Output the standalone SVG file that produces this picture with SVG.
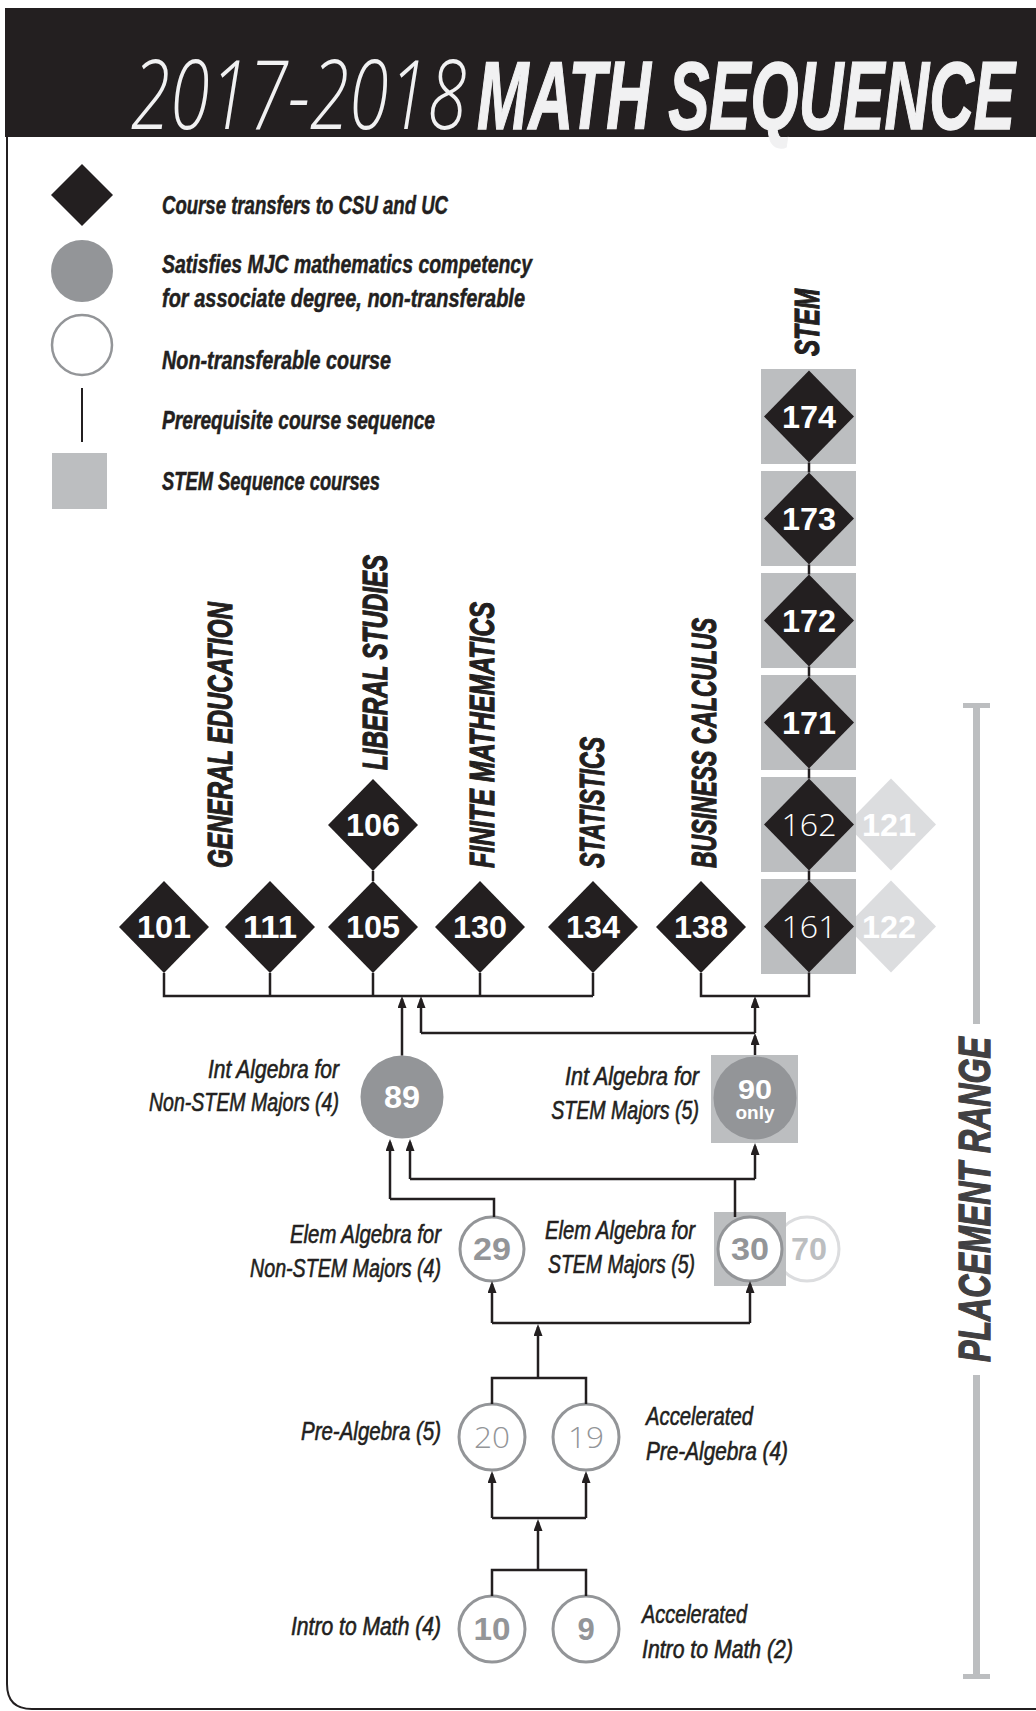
<svg xmlns="http://www.w3.org/2000/svg" width="1036" height="1711" viewBox="0 0 1036 1711">
<style>
.lbl{font-family:"Liberation Sans",Arial,sans-serif;font-style:italic;font-size:25px;fill:#231f20;stroke:#231f20;stroke-width:0.6px}
.leg{font-family:"Liberation Sans",Arial,sans-serif;font-style:italic;font-weight:bold;font-size:25px;fill:#231f20;stroke:#231f20;stroke-width:0.5px}
.col{font-family:"Liberation Sans",Arial,sans-serif;font-style:italic;font-weight:bold;font-size:35px;fill:#231f20;stroke:#231f20;stroke-width:1.2px}
.dnum{font-family:"Liberation Sans",Arial,sans-serif;font-weight:bold;font-size:32px;fill:#ffffff;text-anchor:middle}
.lnum{font-family:"Open Sans","Liberation Sans",sans-serif;font-weight:300;font-size:31px;fill:#ffffff;text-anchor:middle}
.cnum{font-family:"Liberation Sans",Arial,sans-serif;font-weight:bold;font-size:31px;fill:#939598;text-anchor:middle}
.cthin{font-family:"Open Sans","Liberation Sans",sans-serif;font-weight:300;font-size:30px;fill:#939598;text-anchor:middle}
.dia{fill:#231f20}
.sq{fill:#bcbec0}
.ring{fill:#ffffff;stroke:#939598;stroke-width:3}
.conn{fill:none;stroke:#231f20;stroke-width:2.5}
.arr{fill:none;stroke:#231f20;stroke-width:2.5;marker-end:url(#ah)}
.r{text-anchor:end}
</style>
<defs>
<marker id="ah" viewBox="0 0 12 9" refX="9" refY="4.5" markerWidth="12" markerHeight="9" markerUnits="userSpaceOnUse" orient="auto">
<path d="M0,0 L12,4.5 L0,9 Z" fill="#231f20"/>
</marker>
<path id="dm" d="M0,-46 L45,0 L0,46 L-45,0 Z"/>
</defs>

<!-- frame and title -->
<path d="M7,137 V1684 Q7,1709 32,1709 H1036" fill="none" stroke="#231f20" stroke-width="2"/>
<g id="title">
<rect x="5" y="8" width="1031" height="129" fill="#231f20"/>
<text transform="translate(131,129) scale(0.742,1)" font-family="'Open Sans','Liberation Sans',sans-serif" font-weight="300" font-style="italic" font-size="96" fill="#f1f1f2">2017-2018</text>
<text transform="translate(477,129) scale(0.644,1)" font-family="'Liberation Sans',Arial,sans-serif" font-weight="bold" font-style="italic" font-size="96" fill="#f1f1f2" stroke="#f1f1f2" stroke-width="1.4">MATH SEQUENCE</text>
</g>

<!-- legend -->
<g id="legend">
<path d="M82,164 L113,195 L82,226 L51,195 Z" fill="#231f20"/>
<text class="leg" x="162" y="214" textLength="286" lengthAdjust="spacingAndGlyphs">Course transfers to CSU and UC</text>
<circle cx="82" cy="271" r="31" fill="#939598"/>
<text class="leg" x="162" y="273" textLength="370" lengthAdjust="spacingAndGlyphs">Satisfies MJC mathematics competency</text>
<text class="leg" x="162" y="307" textLength="363" lengthAdjust="spacingAndGlyphs">for associate degree, non-transferable</text>
<circle cx="82" cy="345" r="30" fill="#ffffff" stroke="#939598" stroke-width="2.5"/>
<text class="leg" x="162" y="369" textLength="229" lengthAdjust="spacingAndGlyphs">Non-transferable course</text>
<line x1="82" y1="388" x2="82" y2="442" stroke="#231f20" stroke-width="2"/>
<text class="leg" x="162" y="429" textLength="273" lengthAdjust="spacingAndGlyphs">Prerequisite course sequence</text>
<rect x="52" y="453" width="55" height="56" fill="#bcbec0"/>
<text class="leg" x="162" y="490" textLength="218" lengthAdjust="spacingAndGlyphs">STEM Sequence courses</text>
</g>

<!-- column labels -->
<g id="column-labels">
<text class="col" transform="translate(232,868) rotate(-90)" textLength="266" lengthAdjust="spacingAndGlyphs">GENERAL EDUCATION</text>
<text class="col" transform="translate(387,770) rotate(-90)" textLength="215" lengthAdjust="spacingAndGlyphs">LIBERAL STUDIES</text>
<text class="col" transform="translate(494,868) rotate(-90)" textLength="266" lengthAdjust="spacingAndGlyphs">FINITE MATHEMATICS</text>
<text class="col" transform="translate(604,868) rotate(-90)" textLength="131" lengthAdjust="spacingAndGlyphs">STATISTICS</text>
<text class="col" transform="translate(716,868) rotate(-90)" textLength="250" lengthAdjust="spacingAndGlyphs">BUSINESS CALCULUS</text>
<text class="col" transform="translate(819,356) rotate(-90)" textLength="67" lengthAdjust="spacingAndGlyphs">STEM</text>
</g>

<!-- placement range -->
<g id="placement-range">
<rect x="963" y="703" width="27" height="5" fill="#bcbec0"/>
<rect x="973" y="703" width="7" height="321" fill="#bcbec0"/>
<rect x="973" y="1375" width="7" height="302" fill="#bcbec0"/>
<rect x="963" y="1674" width="27" height="5" fill="#bcbec0"/>
<text transform="translate(990,1362) rotate(-90)" font-family="'Liberation Sans',Arial,sans-serif" font-weight="bold" font-style="italic" font-size="44" fill="#414042" stroke="#414042" stroke-width="1.3" textLength="325" lengthAdjust="spacingAndGlyphs">PLACEMENT RANGE</text>
</g>

<!-- light alternates behind STEM squares -->
<g id="n121"><use href="#dm" x="891" y="824.5" fill="#dcdddf"/><text class="dnum" x="889" y="836" textLength="54" lengthAdjust="spacingAndGlyphs">121</text></g>
<g id="n122"><use href="#dm" x="891" y="926.5" fill="#dcdddf"/><text class="dnum" x="889" y="938" textLength="54" lengthAdjust="spacingAndGlyphs">122</text></g>

<!-- STEM column -->
<g id="n174"><rect class="sq" x="761" y="369" width="95" height="95"/><use href="#dm" x="809" y="416.5" class="dia"/><text class="dnum" x="809" y="428" textLength="54" lengthAdjust="spacingAndGlyphs">174</text></g>
<g id="n173"><rect class="sq" x="761" y="471" width="95" height="95"/><use href="#dm" x="809" y="518.5" class="dia"/><text class="dnum" x="809" y="530" textLength="54" lengthAdjust="spacingAndGlyphs">173</text></g>
<g id="n172"><rect class="sq" x="761" y="573" width="95" height="95"/><use href="#dm" x="809" y="620.5" class="dia"/><text class="dnum" x="809" y="632" textLength="54" lengthAdjust="spacingAndGlyphs">172</text></g>
<g id="n171"><rect class="sq" x="761" y="675" width="95" height="95"/><use href="#dm" x="809" y="722.5" class="dia"/><text class="dnum" x="809" y="734" textLength="54" lengthAdjust="spacingAndGlyphs">171</text></g>
<g id="n162"><rect class="sq" x="761" y="777" width="95" height="95"/><use href="#dm" x="809" y="824.5" class="dia"/><text class="lnum" x="809" y="836" textLength="55" lengthAdjust="spacingAndGlyphs">162</text></g>
<g id="n161"><rect class="sq" x="761" y="879" width="95" height="95"/><use href="#dm" x="809" y="926.5" class="dia"/><text class="lnum" x="809" y="938" textLength="55" lengthAdjust="spacingAndGlyphs">161</text></g>

<!-- transfer row -->
<g id="n101"><use href="#dm" x="164" y="927" class="dia"/><text class="dnum" x="164" y="938" textLength="54" lengthAdjust="spacingAndGlyphs">101</text></g>
<g id="n111"><use href="#dm" x="270" y="927" class="dia"/><text class="dnum" x="270" y="938" textLength="54" lengthAdjust="spacingAndGlyphs">111</text></g>
<g id="n105"><use href="#dm" x="373" y="927" class="dia"/><text class="dnum" x="373" y="938" textLength="54" lengthAdjust="spacingAndGlyphs">105</text></g>
<g id="n106"><use href="#dm" x="373" y="825" class="dia"/><text class="dnum" x="373" y="836" textLength="54" lengthAdjust="spacingAndGlyphs">106</text></g>
<g id="n130"><use href="#dm" x="480" y="927" class="dia"/><text class="dnum" x="480" y="938" textLength="54" lengthAdjust="spacingAndGlyphs">130</text></g>
<g id="n134"><use href="#dm" x="593" y="927" class="dia"/><text class="dnum" x="593" y="938" textLength="54" lengthAdjust="spacingAndGlyphs">134</text></g>
<g id="n138"><use href="#dm" x="701" y="927" class="dia"/><text class="dnum" x="701" y="938" textLength="54" lengthAdjust="spacingAndGlyphs">138</text></g>

<!-- intermediate algebra -->
<g id="n89">
<circle cx="402" cy="1097" r="41.5" fill="#939598"/>
<text class="dnum" x="402" y="1108" textLength="36" lengthAdjust="spacingAndGlyphs">89</text>
<text class="lbl r" x="339" y="1078" textLength="131" lengthAdjust="spacingAndGlyphs">Int Algebra for</text>
<text class="lbl r" transform="translate(339,1111) scale(0.782,1)">Non-STEM Majors (4)</text>
</g>
<g id="n90">
<rect class="sq" x="711" y="1055" width="87" height="88"/>
<circle cx="755" cy="1098" r="41.5" fill="#939598"/>
<text class="dnum" x="755" y="1099" style="font-size:28px" textLength="34" lengthAdjust="spacingAndGlyphs">90</text>
<text class="dnum" x="755" y="1119" style="font-size:19px">only</text>
<text class="lbl r" x="699" y="1085" textLength="134" lengthAdjust="spacingAndGlyphs">Int Algebra for</text>
<text class="lbl r" transform="translate(699,1119) scale(0.783,1)">STEM Majors (5)</text>
</g>

<!-- elementary algebra -->
<g id="n29">
<circle class="ring" cx="492" cy="1249" r="32"/>
<text class="cnum" x="492" y="1260" textLength="38" lengthAdjust="spacingAndGlyphs">29</text>
<text class="lbl r" x="441" y="1243" textLength="151" lengthAdjust="spacingAndGlyphs">Elem Algebra for</text>
<text class="lbl r" transform="translate(441,1277) scale(0.786,1)">Non-STEM Majors (4)</text>
</g>
<g id="n70">
<circle cx="807" cy="1249" r="32" fill="#ffffff" stroke="#dcdddf" stroke-width="3"/>
<text class="cnum" x="809" y="1260" style="fill:#bcbec0" textLength="36" lengthAdjust="spacingAndGlyphs">70</text>
</g>
<g id="n30">
<rect class="sq" x="714" y="1212" width="72" height="74"/>
<circle class="ring" cx="750" cy="1249" r="32"/>
<text class="cnum" x="750" y="1260" textLength="38" lengthAdjust="spacingAndGlyphs">30</text>
<text class="lbl r" x="695" y="1239" textLength="150" lengthAdjust="spacingAndGlyphs">Elem Algebra for</text>
<text class="lbl r" x="695" y="1273" textLength="147" lengthAdjust="spacingAndGlyphs">STEM Majors (5)</text>
</g>

<!-- pre-algebra -->
<g id="n20">
<circle class="ring" cx="492" cy="1437" r="33"/>
<text class="cthin" x="492" y="1448" textLength="36" lengthAdjust="spacingAndGlyphs">20</text>
<text class="lbl r" x="441" y="1440" textLength="140" lengthAdjust="spacingAndGlyphs">Pre-Algebra (5)</text>
</g>
<g id="n19">
<circle class="ring" cx="586" cy="1437" r="33"/>
<text class="cthin" x="586" y="1448" textLength="36" lengthAdjust="spacingAndGlyphs">19</text>
<text class="lbl" x="646" y="1425" textLength="107" lengthAdjust="spacingAndGlyphs">Accelerated</text>
<text class="lbl" x="646" y="1460" textLength="142" lengthAdjust="spacingAndGlyphs">Pre-Algebra (4)</text>
</g>

<!-- intro to math -->
<g id="n10">
<circle class="ring" cx="492" cy="1629" r="33"/>
<text class="cnum" x="492" y="1640" textLength="37" lengthAdjust="spacingAndGlyphs">10</text>
<text class="lbl r" x="441" y="1635" textLength="150" lengthAdjust="spacingAndGlyphs">Intro to Math (4)</text>
</g>
<g id="n9">
<circle class="ring" cx="586" cy="1629" r="33"/>
<text class="cnum" x="586" y="1640">9</text>
<text class="lbl" x="642" y="1623" textLength="105" lengthAdjust="spacingAndGlyphs">Accelerated</text>
<text class="lbl" x="642" y="1658" textLength="151" lengthAdjust="spacingAndGlyphs">Intro to Math (2)</text>
</g>

<!-- connectors -->
<g id="connectors">
<path class="conn" d="M809,462.5 V472.5 M809,564.5 V574.5 M809,666.5 V676.5 M809,768.5 V778.5 M809,870.5 V880.5"/>
<path class="conn" d="M373,871 V881"/>
<path class="conn" d="M164,973 V996 H593 M270,973 V996 M373,973 V996 M480,973 V996 M593,973 V996"/>
<path class="conn" d="M701,973 V996 H809 V972.5"/>
<path class="arr" d="M402,1055.5 V999"/>
<path class="conn" d="M421,1033 H755"/>
<path class="arr" d="M421,1033 V999"/>
<path class="arr" d="M755,1033 V999"/>
<path class="arr" d="M755,1055 V1036"/>
<path class="conn" d="M390,1199 H494 V1217"/>
<path class="arr" d="M390,1199 V1142"/>
<path class="conn" d="M410,1179 H755 M735,1179 V1217"/>
<path class="arr" d="M410,1179 V1142"/>
<path class="arr" d="M755,1179 V1146"/>
<path class="conn" d="M492,1323 H750"/>
<path class="arr" d="M492,1323 V1284"/>
<path class="arr" d="M750,1323 V1284"/>
<path class="arr" d="M538,1378 V1327"/>
<path class="conn" d="M492,1404 V1378 H586 V1404"/>
<path class="conn" d="M492,1518 H586"/>
<path class="arr" d="M492,1518 V1474"/>
<path class="arr" d="M586,1518 V1474"/>
<path class="arr" d="M538,1570 V1522"/>
<path class="conn" d="M492,1596 V1570 H586 V1596"/>
</g>
</svg>
